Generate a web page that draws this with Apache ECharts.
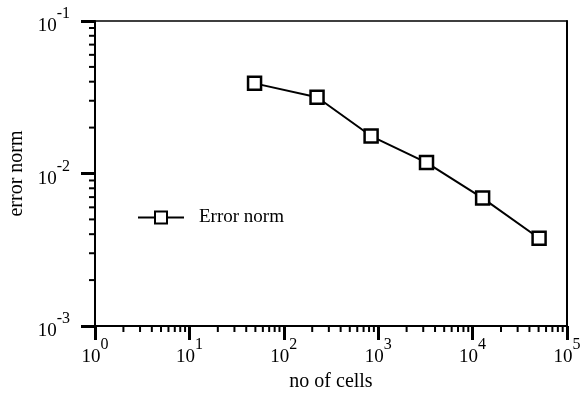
<!DOCTYPE html>
<html>
<head>
<meta charset="utf-8">
<script src="https://cdn.jsdelivr.net/npm/echarts@6/dist/echarts.min.js"></script>
<style>
  html, body { margin: 0; padding: 0; background: #fff; }
  #main { width: 581px; height: 396px; }
</style>
</head>
<body>
<div id="main"></div>
<script>
// data
const cells = [49, 225, 841, 3249, 12769, 50625];
const errorNorm = [0.0390, 0.0316, 0.0176, 0.0118, 0.0069, 0.00376];
const xRange = [1, 1e5];
const yRange = [1e-3, 1e-1];
const minorMult = [2, 3, 4, 5, 6, 7, 8, 9];

const FONT = "Liberation Serif";

// minor tick positions (2..9 x 10^k) inside each axis range
const xMinor = [];
for (let k = 0; k < 5; k++) minorMult.forEach(m => xMinor.push(m * Math.pow(10, k)));
const yMinor = [];
for (let k = -3; k < -1; k++) minorMult.forEach(m => yMinor.push(m * Math.pow(10, k)));

const pow10 = v => '{b|10}{s|' + Math.round(Math.log10(v)) + '}';
const rich = {
  b: { fontFamily: FONT, fontSize: 19, color: '#000', lineHeight: 30, verticalAlign: 'bottom' },
  s: { fontFamily: FONT, fontSize: 16, color: '#000', lineHeight: 14, verticalAlign: 'top' }
};

const chart = echarts.init(document.getElementById('main'));
chart.setOption({
  animation: false,
  backgroundColor: '#fff',
  grid: { left: 95, right: 14, top: 21, bottom: 70, outerBoundsMode: 'none', containLabel: false },
  legend: {
    left: 137,
    top: 208,
    padding: 0,
    itemWidth: 46,
    itemHeight: 15,
    data: ['Error norm'],
    lineStyle: { color: '#000', width: 2 },
    itemStyle: { color: '#fff', borderColor: '#000', borderWidth: 2 },
    textStyle: { fontFamily: FONT, fontSize: 19, color: '#000', padding: [0, 0, 0, 10] }
  },
  xAxis: [
    {
      type: 'log',
      logBase: 10,
      min: xRange[0],
      max: xRange[1],
      name: 'no of cells',
      nameLocation: 'middle',
      nameGap: 46,
      nameTextStyle: { fontFamily: FONT, fontSize: 20, color: '#000' },
      axisLine: { lineStyle: { color: '#000', width: 2 } },
      axisTick: { length: 14, lineStyle: { color: '#000', width: 3 } },
      axisLabel: { margin: 11, fontFamily: FONT, fontSize: 19, formatter: pow10, rich: rich },
      splitLine: { show: false }
    },
    {
      type: 'log',
      logBase: 10,
      position: 'top',
      min: xRange[0],
      max: xRange[1],
      axisLine: { lineStyle: { color: '#000', width: 1.5 } },
      axisTick: { show: false },
      axisLabel: { show: false },
      splitLine: { show: false }
    }
  ],
  yAxis: [
    {
      type: 'log',
      logBase: 10,
      min: yRange[0],
      max: yRange[1],
      name: 'error norm',
      nameLocation: 'middle',
      nameGap: 67,
      nameTextStyle: { fontFamily: FONT, fontSize: 20, color: '#000' },
      axisLine: { lineStyle: { color: '#000', width: 2 } },
      axisTick: { length: 14, lineStyle: { color: '#000', width: 3 } },
      axisLabel: { margin: 25, fontFamily: FONT, fontSize: 19, formatter: pow10, rich: rich },
      splitLine: { show: false }
    },
    {
      type: 'log',
      logBase: 10,
      position: 'right',
      min: yRange[0],
      max: yRange[1],
      axisLine: { lineStyle: { color: '#000', width: 2 } },
      axisTick: { show: false },
      axisLabel: { show: false },
      splitLine: { show: false }
    }
  ],
  series: [
    {
      name: 'Error norm',
      type: 'line',
      data: cells.map((c, i) => [c, errorNorm[i]]),
      symbol: 'rect',
      symbolSize: 13,
      lineStyle: { color: '#000', width: 2 },
      itemStyle: { color: '#fff', borderColor: '#000', borderWidth: 2.5 },
      z: 5
    },
    {
      name: 'xminor',
      type: 'custom',
      silent: true,
      clip: false,
      data: xMinor.map(v => [v, yRange[0]]),
      renderItem: (params, api) => {
        const p = api.coord([api.value(0), api.value(1)]);
        return { type: 'line', shape: { x1: p[0], y1: p[1], x2: p[0], y2: p[1] + 6 },
                 style: { stroke: '#000', lineWidth: 2 } };
      }
    },
    {
      name: 'yminor',
      type: 'custom',
      silent: true,
      clip: false,
      data: yMinor.map(v => [xRange[0], v]),
      renderItem: (params, api) => {
        const p = api.coord([api.value(0), api.value(1)]);
        return { type: 'line', shape: { x1: p[0], y1: p[1], x2: p[0] - 6, y2: p[1] },
                 style: { stroke: '#000', lineWidth: 2 } };
      }
    }
  ]
});
</script>
</body>
</html>
